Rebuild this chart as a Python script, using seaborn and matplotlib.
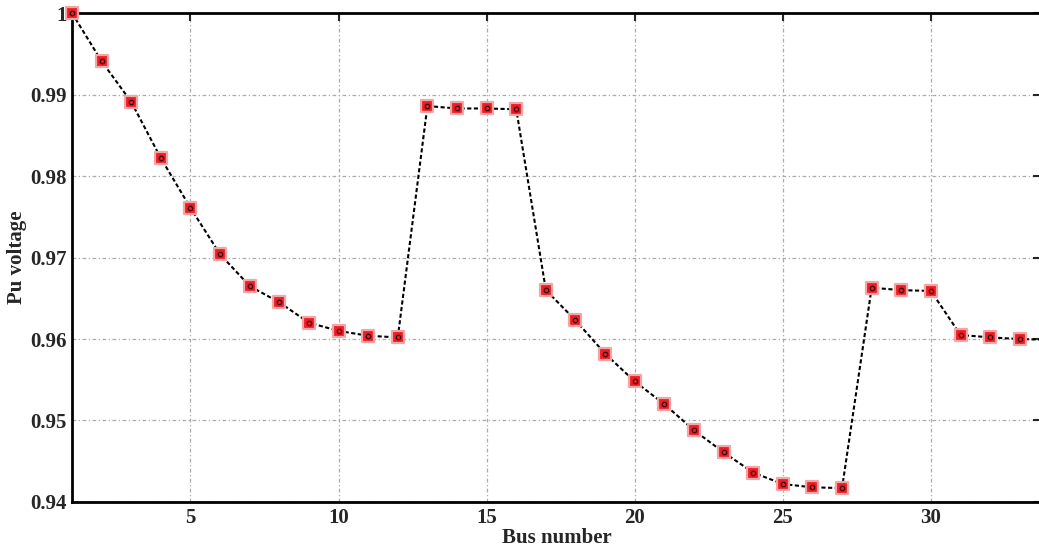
import matplotlib
matplotlib.use("Agg")
import matplotlib.pyplot as plt
import seaborn as sns
import pandas as pd

bus = list(range(1, 35))
voltage = [1.0000, 0.9941, 0.9891, 0.9822, 0.9761, 0.9704, 0.9665, 0.9645, 0.9620, 0.9610,
           0.9604, 0.9602, 0.9886, 0.9883, 0.9883, 0.9882, 0.9660, 0.9623, 0.9582, 0.9548,
           0.9520, 0.9488, 0.9461, 0.9436, 0.9422, 0.9418, 0.9417, 0.9663, 0.9660, 0.9659,
           0.9605, 0.9602, 0.9600, 0.9599]
x_ticks = [5, 10, 15, 20, 25, 30]
y_ticks = [0.94, 0.95, 0.96, 0.97, 0.98, 0.99, 1.0]
y_tick_labels = ["0.94", "0.95", "0.96", "0.97", "0.98", "0.99", "1"]

df = pd.DataFrame({"bus": bus, "v": voltage})
vis = df[df["bus"] <= 33]

sns.set_style("white")
plt.rcParams['font.family'] = ['Liberation Serif', 'DejaVu Serif']
plt.rcParams['font.weight'] = 'bold'

fig = plt.figure(figsize=(10.39, 5.48), dpi=100)
ax = fig.add_axes([0.0693, 0.084, 0.9327, 0.892])

sns.lineplot(data=df, x="bus", y="v", ax=ax, color="black", linestyle=(0, (2, 1.2)),
             linewidth=1.5, zorder=3)
sc = sns.scatterplot(data=vis, x="bus", y="v", ax=ax, marker="s", s=75, color="#ee1c25",
                     edgecolor="#f4a6a6", linewidth=1.6, zorder=4)
for c in ax.collections:
    c.set_clip_on(False)
ax.plot(vis["bus"], vis["v"], linestyle="none", marker="o", markersize=3.2,
        markerfacecolor="none", markeredgecolor="#330000", markeredgewidth=0.9,
        zorder=5, clip_on=False)

ax.set_xlim(1, 33.72)
ax.set_ylim(0.94, 1.0)
ax.set_xticks(x_ticks)
ax.set_yticks(y_ticks)
ax.set_yticklabels(y_tick_labels)
ax.tick_params(axis="both", direction="in", length=6, width=1.5, labelsize=15,
               top=True, right=True, pad=4)
for lab in ax.get_xticklabels() + ax.get_yticklabels():
    lab.set_fontweight("bold")
ax.grid(True, color="#aaaaaa", linestyle=(0, (3, 2, 1, 2)), linewidth=0.9)
for sp in ax.spines.values():
    sp.set_linewidth(2)
    sp.set_color("black")
ax.set_xlabel("Bus number", fontsize=15, fontweight="bold", labelpad=0)
ax.set_ylabel("Pu voltage", fontsize=15, fontweight="bold", labelpad=2)

fig.savefig("out.png", dpi=100)
